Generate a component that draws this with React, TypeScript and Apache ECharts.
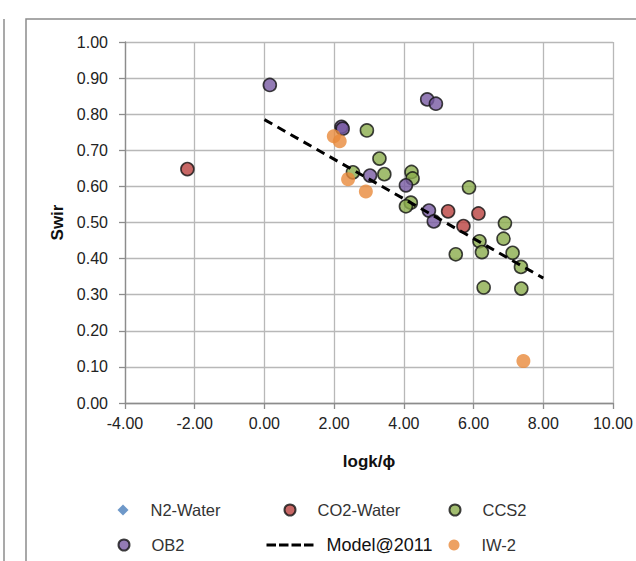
import React, { useEffect, useRef } from 'react';
import * as echarts from 'echarts';

const xTicks = { min: -4, max: 10, interval: 2 };
const yTicks = { min: 0, max: 1, interval: 0.1 };

const n2Water: [number, number][] = [];
const co2Water: [number, number][] = [
  [-2.21, 0.648], [5.27, 0.531], [6.14, 0.525], [5.71, 0.49],
];
const ccs2: [number, number][] = [
  [2.94, 0.755], [2.54, 0.639], [3.3, 0.677], [3.44, 0.634], [4.22, 0.64],
  [4.25, 0.622], [5.87, 0.597], [4.2, 0.555], [4.06, 0.545], [6.9, 0.498],
  [6.17, 0.448], [6.86, 0.455], [6.24, 0.418], [5.49, 0.412], [7.12, 0.416],
  [7.36, 0.377], [6.29, 0.32], [7.37, 0.317],
];
const ob2: [number, number][] = [
  [0.155, 0.881], [2.21, 0.765], [2.245, 0.76], [3.03, 0.63], [4.67, 0.841],
  [4.92, 0.829], [4.06, 0.603], [4.72, 0.533], [4.86, 0.503],
];
const model2011: [number, number][] = [[0, 0.785], [8, 0.346]];
const iw2: [number, number][] = [
  [1.99, 0.739], [2.16, 0.725], [2.4, 0.62], [2.91, 0.586], [7.43, 0.116],
];

const FONT = 'Liberation Sans, Arial, sans-serif';

function legendAt(name: string, left: number, top: number, extra: any = {}) {
  return {
    data: [name],
    left,
    top,
    padding: 0,
    itemWidth: 11,
    itemHeight: 11,
    selectedMode: false,
    textStyle: { fontFamily: FONT, fontSize: 16.5, color: '#333', padding: [0, 0, 0, 17] },
    ...extra,
  };
}

export default function App() {
  const ref = useRef<HTMLDivElement>(null);
  useEffect(() => {
    document.body.style.margin = '0';
    const chart = echarts.init(ref.current!, null, { renderer: 'svg' });
    const markerBorder = { borderColor: '#111', borderWidth: 1.6 };
    const axisLineStyle = { color: '#8c8c8c', width: 1.3 };
    chart.setOption({
      animation: false,
      backgroundColor: '#fff',
      grid: { left: 125, right: 20, top: 42, bottom: 158 },
      xAxis: {
        type: 'value',
        ...xTicks,
        name: 'logk/\u03D5',
        nameLocation: 'middle',
        nameGap: 50,
        nameTextStyle: { fontFamily: FONT, fontSize: 17, fontWeight: 'bold', color: '#111' },
        axisLine: { show: true, onZero: false, lineStyle: axisLineStyle },
        axisTick: { show: true, length: 6, lineStyle: axisLineStyle },
        splitLine: { show: true, lineStyle: { color: '#b8b8b8', width: 1.3 } },
        axisLabel: {
          margin: 12,
          fontFamily: FONT,
          fontSize: 16,
          color: '#222',
          formatter: (v: number) => v.toFixed(2),
        },
      },
      yAxis: {
        type: 'value',
        ...yTicks,
        name: 'Swir',
        nameLocation: 'middle',
        nameGap: 58,
        nameTextStyle: { fontFamily: FONT, fontSize: 17, fontWeight: 'bold', color: '#111' },
        axisLine: { show: true, onZero: false, lineStyle: axisLineStyle },
        axisTick: { show: true, length: 6, lineStyle: axisLineStyle },
        splitLine: { show: true, lineStyle: { color: '#b8b8b8', width: 1.3 } },
        axisLabel: {
          margin: 17,
          fontFamily: FONT,
          fontSize: 16,
          color: '#222',
          formatter: (v: number) => v.toFixed(2),
        },
      },
      legend: [
        legendAt('N2-Water', 117.5, 501.5),
        legendAt('CO2-Water', 283.5, 501.5),
        legendAt('CCS2', 448.5, 501.5),
        legendAt('OB2', 117.5, 536.5),
        legendAt('Model@2011', 265, 536, {
          itemWidth: 47,
          itemHeight: 10,
          itemStyle: { color: 'rgba(0,0,0,0)', borderWidth: 0, opacity: 0 },
          lineStyle: { color: '#000', width: 3, type: [9.5, 3], opacity: 1 },
          textStyle: { fontFamily: FONT, fontSize: 18, color: '#111', padding: [0, 0, 0, 8] },
        }),
        legendAt('IW-2', 448.5, 536.5),
      ],
      graphic: [
        {
          type: 'rect',
          shape: { x: 26, y: 19, width: 700, height: 700 },
          style: { fill: 'none', stroke: '#8c8c8c', lineWidth: 1.5 },
          silent: true,
          z: -10,
        },
        {
          type: 'line',
          shape: { x1: 4, y1: 19, x2: 4, y2: 561 },
          style: { stroke: '#8c8c8c', lineWidth: 1.5 },
          silent: true,
        },
      ],
      series: [
        {
          name: 'N2-Water',
          type: 'scatter',
          symbol: 'diamond',
          symbolSize: 10,
          itemStyle: { color: '#4a7ebb' },
          data: n2Water,
        },
        {
          name: 'CO2-Water',
          type: 'scatter',
          symbol: 'circle',
          symbolSize: 13,
          itemStyle: { color: '#b9413e', ...markerBorder },
          data: co2Water,
        },
        {
          name: 'CCS2',
          type: 'scatter',
          symbol: 'circle',
          symbolSize: 13,
          itemStyle: { color: '#8bad4c', ...markerBorder },
          data: ccs2,
        },
        {
          name: 'OB2',
          type: 'scatter',
          symbol: 'circle',
          symbolSize: 13,
          itemStyle: { color: '#785aa3', ...markerBorder },
          data: ob2,
        },
        {
          name: 'Model@2011',
          type: 'line',
          symbol: 'none',
          itemStyle: { color: '#000' },
          lineStyle: { color: '#000', width: 3, type: [9, 6] },
          data: model2011,
        },
        {
          name: 'IW-2',
          type: 'scatter',
          symbol: 'circle',
          symbolSize: 14,
          itemStyle: { color: '#e8893b' },
          data: iw2,
        },
      ],
    });
    return () => chart.dispose();
  }, []);
  return <div ref={ref} style={{ width: 636, height: 561 }} />;
}
